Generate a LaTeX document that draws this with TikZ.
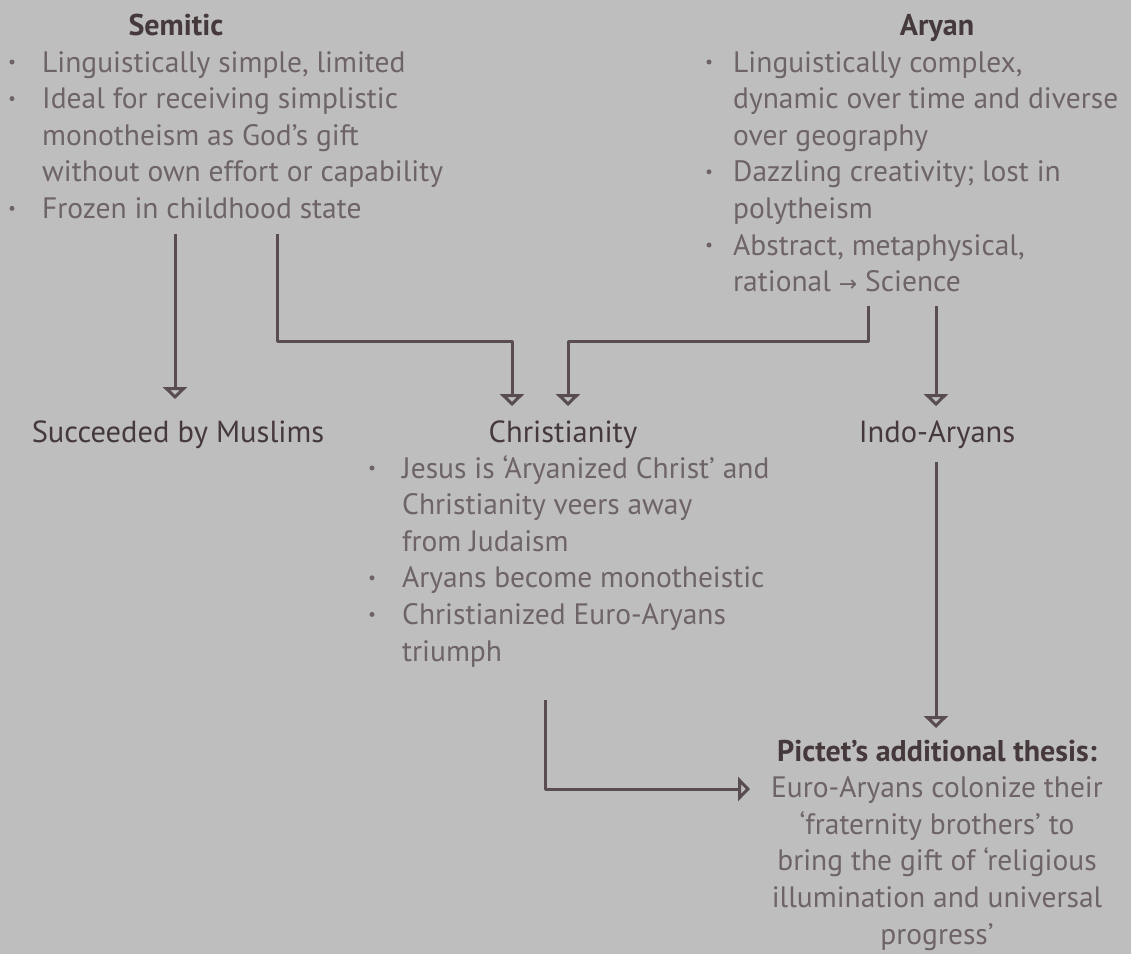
\documentclass[tikz,border=0pt]{standalone}
\usepackage{fontspec}
\setmainfont{PT Sans}
\newfontfamily\symfont{DejaVu Sans}
\usetikzlibrary{arrows.meta}
\definecolor{bg}{HTML}{BEBEBE}
\definecolor{bodytext}{HTML}{6E6467}
\definecolor{headtext}{HTML}{45393C}
\definecolor{wire}{HTML}{594D51}

\begin{document}
\begin{tikzpicture}[x=1pt,y=-1pt,
  txt/.style={inner sep=0pt, text=bodytext, font=\fontsize{29.5}{34}\selectfont, anchor=base west},
  ctr/.style={txt, anchor=base},
  sub/.style={inner sep=0pt, text=headtext, font=\fontsize{30.5}{34}\selectfont, anchor=base},
  hd/.style={inner sep=0pt, text=headtext, font=\fontsize{30}{34}\selectfont\bfseries, anchor=base},
  dot/.style={circle, fill=bodytext, inner sep=0pt, minimum size=5pt},
  link/.style={draw=wire, line width=3pt, line join=round,
    -{Triangle[open, width=24pt, length=12pt, line width=5pt]}}
]
\fill[bg] (0,0) rectangle (1131,954);
\useasboundingbox (0,0) rectangle (1131,954);

% column headings
\node[hd] (semitic) at (176,35) {Semitic};
\node[hd] (aryan) at (937,35) {Aryan};

% Semitic traits
\foreach \b/\t [count=\i from 0] in {1/{Linguistically simple, limited},
    1/{Ideal for receiving simplistic},0/{monotheism as God’s gift},
    0/{without own effort or capability},1/{Frozen in childhood state}}{
  \node[txt] (sem\i) at (42,72+36.6*\i) {\t};
  \ifnum\b=1 \node[dot] (semdot\i) at (12,62+36.6*\i) {};\fi
}

% Aryan traits
\foreach \b/\t [count=\i from 0] in {1/{Linguistically complex,},
    0/{dynamic over time and diverse},0/{over geography},
    1/{Dazzling creativity; lost in},0/{polytheism},
    1/{Abstract, metaphysical,},0/{rational {\symfont\fontsize{22}{24}\selectfont→} Science}}{
  \node[txt] (ary\i) at (733,72+36.6*\i) {\t};
  \ifnum\b=1 \node[dot] (arydot\i) at (709,62+36.6*\i) {};\fi
}

% second row headings
\node[sub] (muslims) at (178,442) {Succeeded by Muslims};
\node[sub] (christ) at (563,442) {Christianity};
\node[sub] (indo) at (937,442) {Indo-Aryans};

% Christianity traits
\foreach \b/\t [count=\i from 0] in {1/{Jesus is ‘Aryanized Christ’ and},
    0/{Christianity veers away},0/{from Judaism},
    1/{Aryans become monotheistic},1/{Christianized Euro-Aryans},0/{triumph}}{
  \node[txt] (chr\i) at (402,478+36.6*\i) {\t};
  \ifnum\b=1 \node[dot] (chrdot\i) at (372,468+36.6*\i) {};\fi
}

% Pictet's thesis
\node[hd] (pictet) at (937,761) {Pictet’s additional thesis:};
\foreach \t [count=\i from 1] in {{Euro-Aryans colonize their},
    {‘fraternity brothers’ to},{bring the gift of ‘religious},
    {illumination and universal},{progress’}}{
  \node[ctr] (pic\i) at (937,761+36.6*\i) {\t};
}

% connector end points
\coordinate (semA) at (175,234);
\coordinate (semB) at (277,234);
\coordinate (aryA) at (868,306);
\coordinate (aryB) at (936,306);
\coordinate (indoOut) at (936,462);
\coordinate (chrOut) at (545,700);

% connectors
\draw[link] (semA) -- (175,399);
\draw[link] (semB) |- (512,341) -- (512,406);
\draw[link] (aryA) |- (568,341) -- (568,406);
\draw[link] (aryB) -- (936,406);
\draw[link] (indoOut) -- (936,728);
\draw[link] (chrOut) |- (750,789);
\end{tikzpicture}
\end{document}
